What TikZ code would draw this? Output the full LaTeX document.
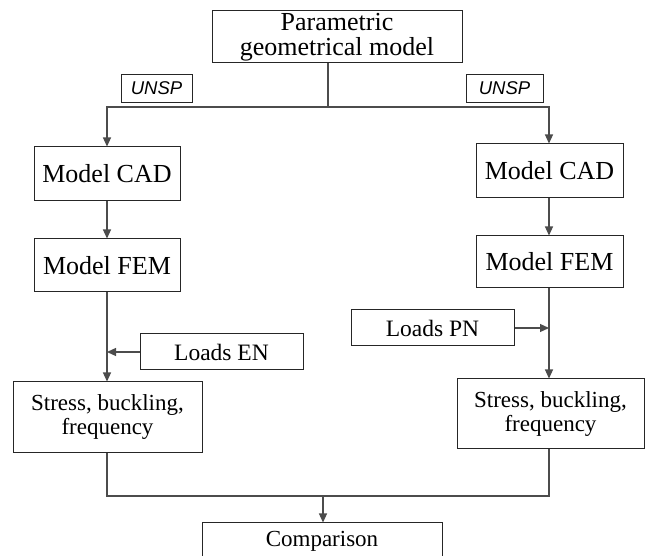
\documentclass[tikz,border=0pt]{standalone}
\usepackage{fontspec}
\setmainfont{Liberation Serif}
\newfontfamily\unspfont{Liberation Sans}
\usepackage{tikz}
\usetikzlibrary{arrows.meta,positioning}
\tikzstyle{block} = [rectangle, draw=black!85, line width=1pt, inner sep=0pt,
    align=center, font=\fontsize{26}{25}\selectfont]
\tikzstyle{loadblock} = [block, minimum width=163pt, minimum height=36pt,
    font=\fontsize{23.5}{23}\selectfont]
\tikzstyle{resblock} = [block, font=\fontsize{23}{24}\selectfont]
\tikzstyle{tag} = [rectangle, draw=black!85, line width=0.8pt, inner sep=0pt,
    minimum height=28pt, font=\unspfont\itshape\fontsize{18.5}{20}\selectfont]
\tikzstyle{line} = [draw=black!70, line width=1.2pt]

\begin{document}
\begin{tikzpicture}[x=1pt, y=-1pt, >={Triangle[length=9pt,width=8pt]}]
  \useasboundingbox (0,0) rectangle (649,556);

  \node [block, minimum width=250pt, minimum height=52pt] (param) at (337,37)
    {Parametric\\geometrical model};
  \node [tag, minimum width=71pt] (unspl) at (156.5,88) {UNSP};
  \node [tag, minimum width=77pt] (unspr) at (504.5,88) {UNSP};

  \coordinate (top) at (328,107);
  \coordinate (topl) at (107,107);
  \coordinate (topr) at (549,107);

  \node [block, minimum width=146pt, minimum height=54pt] (cadl) at (107,174) {Model CAD};
  \node [block, minimum width=146pt, minimum height=53pt] (feml) at (107,265.5) {Model FEM};
  \node [loadblock] (loadsen) at (221.5,352) {Loads EN};
  \node [resblock, minimum width=189pt, minimum height=71pt] (stressl) at (107.5,417.5)
    {Stress, buckling,\\frequency};

  \node [block, minimum width=147pt, minimum height=54pt] (cadr) at (549.5,171) {Model CAD};
  \node [block, minimum width=147pt, minimum height=52pt] (femr) at (549.5,262) {Model FEM};
  \node [loadblock] (loadspn) at (432.5,328) {Loads PN};
  \node [resblock, minimum width=187pt, minimum height=70pt] (stressr) at (550.5,414)
    {Stress, buckling,\\frequency};

  \coordinate (inl) at (107,352);
  \coordinate (inr) at (549,328);
  \coordinate (botl) at (107,496);
  \coordinate (botr) at (549,496);
  \coordinate (bot) at (323,496);

  \node [resblock, minimum width=240pt, minimum height=36pt] (comp) at (322,541) {Comparison};

  \draw [line] (param.south -| top) -- (top);
  \draw [line, ->] (top) -- (topl) -- (cadl.north -| topl);
  \draw [line, ->] (top) -- (topr) -- (cadr.north -| topr);
  \draw [line, ->] (cadl.south -| topl) -- (feml.north -| topl);
  \draw [line, ->] (cadr.south -| topr) -- (femr.north -| topr);
  \draw [line, ->] (feml.south -| topl) -- (stressl.north -| topl);
  \draw [line, ->] (femr.south -| topr) -- (stressr.north -| topr);
  \draw [line, ->] (loadsen.west) -- (inl);
  \draw [line, ->] (loadspn.east) -- (inr);
  \draw [line] (stressl.south -| botl) -- (botl) -- (botr) -- (stressr.south -| botr);
  \draw [line, ->] (bot) -- (comp.north -| bot);
\end{tikzpicture}
\end{document}
